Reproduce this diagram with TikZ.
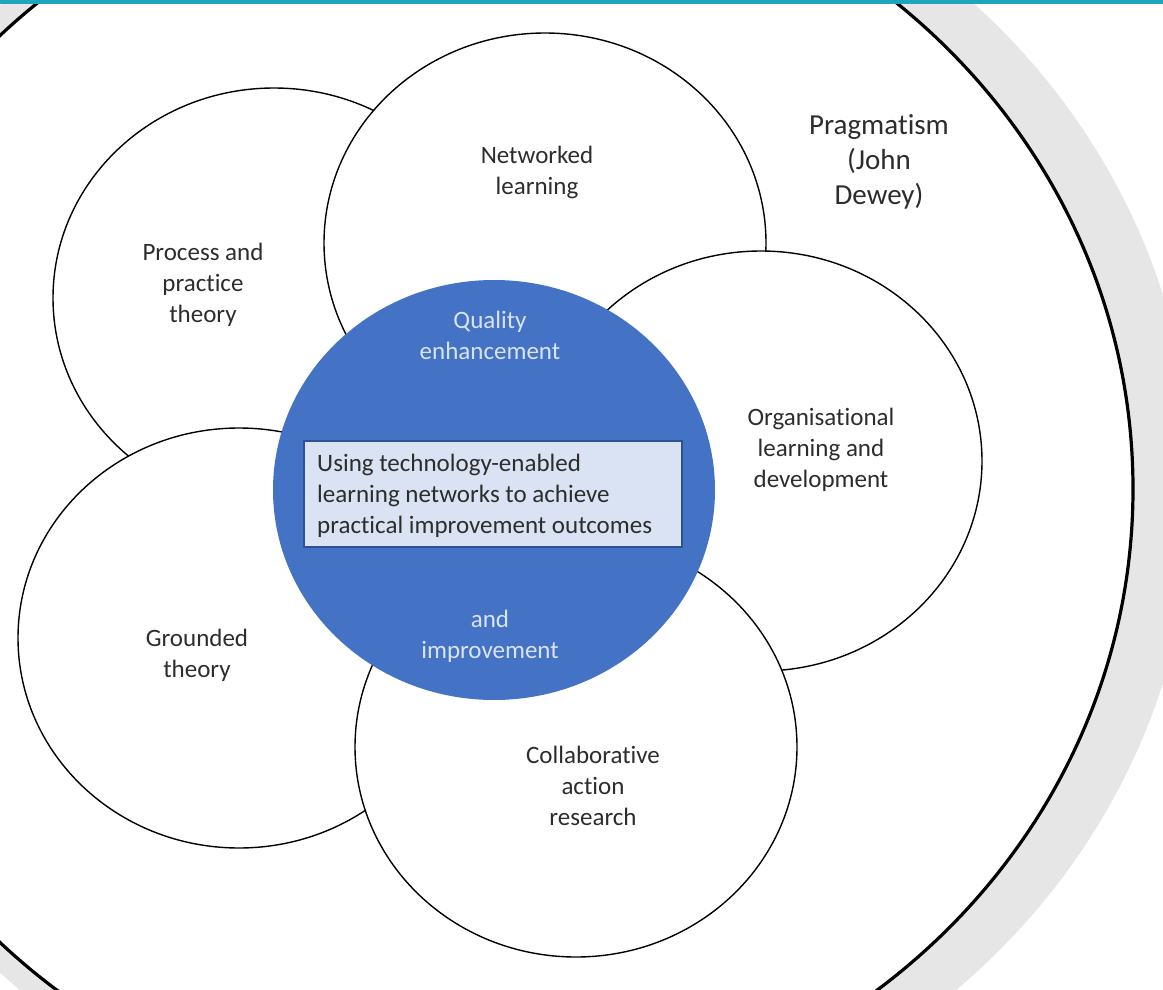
\documentclass[tikz,border=0pt]{standalone}
\usepackage{fontspec}
\setmainfont{Carlito}[Ligatures={NoCommon}]
\usetikzlibrary{shapes.geometric}
\definecolor{qblue}{RGB}{68,114,196}
\definecolor{boxfill}{RGB}{218,227,243}
\definecolor{boxline}{RGB}{47,82,143}
\definecolor{txtgrey}{RGB}{45,45,45}
\definecolor{shadowgrey}{RGB}{230,230,230}
\definecolor{topteal}{RGB}{30,165,188}
\tikzset{
  theory/.style={ellipse, draw=black, line width=1.4pt, fill=white, inner sep=0pt,
    minimum width=442pt, minimum height=420pt},
  lbl/.style={align=center, text=txtgrey, font=\fontsize{25}{31}\selectfont, inner sep=0pt},
  bluelbl/.style={align=center, text=boxfill, font=\fontsize{25}{31}\selectfont, inner sep=0pt},
}
\begin{document}
\begin{tikzpicture}[x=1pt,y=-1pt]
\useasboundingbox (0,0) rectangle (1163,990);
\clip (0,0) rectangle (1163,990);
\fill[white] (0,0) rectangle (1163,990);
% shadow and outer ring
\node[ellipse, fill=shadowgrey, inner sep=0pt, minimum width=1410pt, minimum height=1340pt] (shadow) at (488,489) {};
\node[ellipse, draw=black, line width=3.2pt, fill=white, inner sep=0pt, minimum width=1332pt, minimum height=1272pt] (outer) at (467,489) {};
% theory circles
\node[theory] (process) at (274,298) {};
\node[theory] (network) at (545,243) {};
\node[theory] (org) at (761,461) {};
\node[theory] (grounded) at (239,638) {};
\node[theory] (collab) at (576,747) {};
% central circle
\node[ellipse, fill=qblue, inner sep=0pt, minimum width=442pt, minimum height=420pt] (core) at (494,490) {};
% labels
\node[lbl] (tnet) at (537,172) {Networked\\learning};
\node[lbl] (tproc) at (203,285) {Process and\\practice\\theory};
\node[lbl] (torg) at (821,450) {Organisational\\learning and\\development};
\node[lbl] (tground) at (197,655) {Grounded\\theory};
\node[lbl] (tcollab) at (593,786) {Collaborative\\action\\research};
\node[align=center, text=txtgrey, font=\fontsize{29}{35}\selectfont, inner sep=0pt] (tprag) at (879,162) {Pragmatism\\(John\\Dewey)};
\node[bluelbl] (tqual) at (490,335) {Quality\\enhancement};
\node[bluelbl] (timp) at (490,636) {and\\improvement};
% central box
\node[draw=boxline, line width=1.2pt, fill=boxfill, minimum width=378pt, minimum height=106pt, inner sep=0pt] (box) at (493,494) {};
\node[align=left, text=txtgrey, font=\fontsize{25}{31}\selectfont, inner sep=0pt, anchor=west] (tbox) at (317,496) {Using technology-enabled\\learning\ networks to achieve\\practical improvement outcomes};
% top bar
\fill[topteal] (0,0) rectangle (1163,4);
\end{tikzpicture}
\end{document}
